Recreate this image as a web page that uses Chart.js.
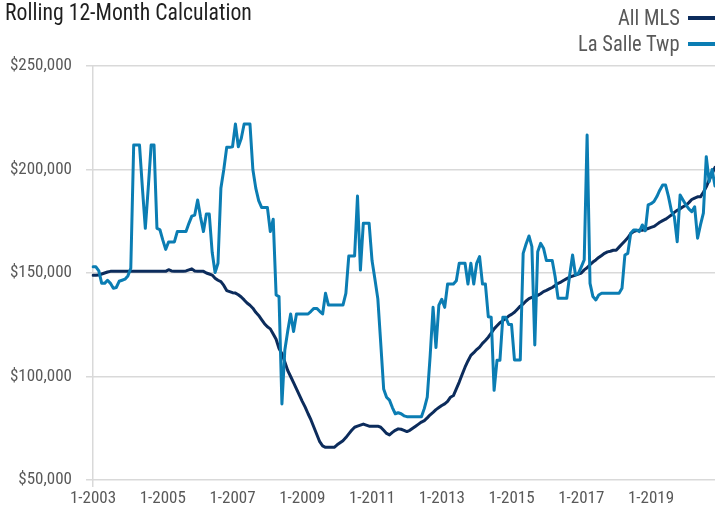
<!DOCTYPE html>
<html>
<head>
<meta charset="utf-8">
<title>Rolling 12-Month Calculation</title>
<script src="https://cdn.jsdelivr.net/npm/chart.js@4.4.1/dist/chart.umd.min.js"></script>
<style>
    body { margin: 0; background: #fff; }
    #wrap { position: relative; width: 715px; height: 515px; overflow: hidden; }
    #wrap canvas { position: absolute; left: 0; top: 0; }
    .title {
        position: absolute; left: 5px; top: 1px; line-height: 1;
        font-size: 23.5px; color: #1f1f1f; white-space: nowrap;
        transform-origin: left center;
    }
    .leg {
        position: absolute; right: 35px; line-height: 1;
        font-size: 21.5px; color: #595959; white-space: nowrap;
        transform-origin: right center;
    }
    .swatch { position: absolute; left: 688px; width: 27px; height: 4px; }
</style>
</head>
<body>
<div id="wrap">
    <canvas id="priceChart"></canvas>
    <div class="title" id="title" data-w="247">Rolling 12-Month Calculation</div>
    <div class="leg" id="legMls" data-w="62" style="top: 7px;">All MLS</div>
    <div class="swatch" style="top: 16px; background: #0c2c5c;"></div>
    <div class="leg" id="legTwp" data-w="102" style="top: 33px;">La Salle Twp</div>
    <div class="swatch" style="top: 42px; background: #0b7db3;"></div>
</div>
<script>
// Rolling 12-month median price, $ thousands, one value per month from 1-2003
const startYear = 2003;

const allMlsValues = [
    148.9, 148.9, 149, 149.5, 150, 150.5, 150.8, 150.8, 150.8, 150.8,
    150.8, 150.8, 150.8, 150.8, 150.8, 150.8, 150.8, 150.8, 150.8, 150.8,
    150.8, 150.8, 150.8, 150.8, 150.8, 150.8, 151.6, 151, 150.8, 150.8,
    150.8, 150.8, 151, 151.5, 152, 151, 150.8, 150.8, 150.8, 150,
    149.5, 149, 147.5, 146.5, 145.8, 144, 141.5, 141, 140.5, 140.3,
    139.5, 138.4, 137, 135.5, 134.4, 133, 131, 129.5, 127.5, 125.5,
    124, 123, 120.5, 118, 113.5, 111, 107, 102.9, 100, 97,
    94, 91, 88, 85.2, 82, 79, 75.5, 72, 68.5, 66.5,
    65.8, 65.8, 65.8, 65.8, 67, 68, 69, 70.5, 72.3, 74,
    75.5, 76, 76.5, 77, 76.5, 76, 76, 76, 76, 75.5,
    74, 72.5, 71.8, 73, 74, 74.7, 74.5, 74, 73.4, 74,
    75, 76, 77, 78, 78.7, 80, 81.5, 82.7, 84, 85,
    86, 86.8, 88, 90, 90.8, 94, 97.3, 101, 104.5, 107.5,
    110.2, 111.5, 113, 114.2, 116, 117.4, 119, 121, 123, 124.5,
    126, 127, 128, 129.2, 130, 131, 132.5, 134, 135, 136.5,
    137.6, 138.2, 138.8, 139.2, 140, 141, 141.6, 142.3, 143, 144,
    145, 145.6, 146.5, 147.3, 148, 148.5, 149, 149.5, 150, 151.5,
    152.5, 154, 155.3, 156.3, 157.5, 158.5, 159.5, 160.2, 160.5, 161,
    161, 162.5, 164, 165.5, 167, 169, 170, 170.5, 170.6, 170.6,
    171, 171.5, 172, 172.5, 173.5, 174.5, 175.3, 176, 177, 178,
    179.3, 180.3, 181, 182, 182.7, 184, 185.5, 186.2, 186.8, 186.8,
    189, 191.6, 195, 198, 201
];

const laSalleValues = [
    153, 153, 151, 145, 145, 146.5, 145, 142.6, 143, 146,
    146.5, 147, 148.6, 152.3, 211.8, 211.8, 211.8, 191, 171.6, 191,
    211.8, 211.8, 171.6, 171, 166, 161.4, 165, 165, 165, 170,
    170, 170, 170, 174, 177.5, 178, 185.3, 177, 170, 178.5,
    178.5, 160, 150.2, 154.7, 190.9, 200, 210.7, 210.7, 211, 222,
    211, 215, 222, 222, 222, 200, 191, 185, 181.7, 181.7,
    181.7, 170, 176, 139.4, 138.6, 86.7, 112.8, 122, 130.2, 121.7,
    130.2, 130.2, 130.2, 130.2, 130.2, 131.5, 132.9, 132.9, 131.5, 130.2,
    140.2, 134.5, 134.5, 134.5, 134.5, 134.5, 134.5, 140.2, 158.2, 158.2,
    158.2, 187.2, 151.4, 174, 174, 174, 156, 147, 137.5, 116,
    94, 90, 88.6, 85, 82, 82.5, 82, 81, 80.6, 80.6,
    80.6, 80.6, 80.6, 80.6, 84.6, 90, 110, 133.4, 114, 134.5,
    137.3, 133.4, 144.7, 144.7, 144.7, 146.3, 154.7, 154.7, 154.7, 144.7,
    154.7, 144.7, 154.7, 157.9, 144.7, 144.7, 128.9, 128.6, 93.3, 107.8,
    107.8, 128.6, 128.6, 125.1, 125.1, 108, 108, 108, 159.5, 164,
    167.9, 162.7, 115.2, 160.3, 164.3, 162, 156, 156, 156, 148.2,
    137.8, 137.8, 137.8, 137.8, 149, 158.7, 149, 149.8, 153, 156.3,
    216.7, 145, 138.6, 137, 139.4, 140.2, 140.2, 140.2, 140.2, 140.2,
    140.2, 140.2, 142.6, 158.7, 159.5, 169.2, 170.8, 170.8, 170, 173.2,
    170.4, 182.9, 183.5, 184.5, 186.9, 190, 192.5, 192.5, 186.9, 180,
    177.2, 165.1, 187.7, 185.3, 182.9, 181, 179.6, 182, 166.8, 173.2,
    178.9, 206.2, 194.1, 200, 192
];

// month labels like 1-2003, 2-2003 ...
const monthLabels = [];
for (let i = 0; i < allMlsValues.length; i++) {
    monthLabels.push((i % 12 + 1) + '-' + (startYear + Math.floor(i / 12)));
}

const yMin = 50, yMax = 250, yStep = 50;
const gridColor = '#d9d9d9';

// pick a narrow face if one is installed, otherwise Roboto
const measureCtx = document.createElement('canvas').getContext('2d');
function hasFont(name) {
    const txt = 'Rolling 12-Month $250,000 WwMm';
    for (const base of ['monospace', 'serif']) {
        measureCtx.font = '40px ' + base;
        const w1 = measureCtx.measureText(txt).width;
        measureCtx.font = '40px "' + name + '", ' + base;
        if (measureCtx.measureText(txt).width !== w1) return true;
    }
    return false;
}
const narrowCandidates = ['Roboto Condensed', 'Liberation Sans Narrow', 'Arial Narrow', 'DejaVu Sans Condensed', 'Open Sans Condensed'];
const fontName = narrowCandidates.find(hasFont) || 'Roboto';
const fontFamily = '"' + fontName + '", "Roboto", sans-serif';

// tick size so that "$250,000" is about 62px wide, as in the original
measureCtx.font = '18px ' + fontFamily;
const tickSize = Math.min(18, Math.round(18 * 62 / measureCtx.measureText('$250,000').width * 2) / 2);
const tickFont = { family: fontFamily, size: tickSize };

// squeeze heading texts to the original widths
document.querySelectorAll('.title, .leg').forEach(el => {
    el.style.fontFamily = fontFamily;
    const k = Number(el.dataset.w) / el.offsetWidth;
    if (k < 1) el.style.transform = 'scaleX(' + k.toFixed(3) + ')';
});

new Chart(document.getElementById('priceChart'), {
    type: 'line',
    data: {
        labels: monthLabels,
        datasets: [{
            label: 'All MLS',
            data: allMlsValues,
            borderColor: '#0c2c5c',
            backgroundColor: '#0c2c5c',
            order: 2
        }, {
            label: 'La Salle Twp',
            data: laSalleValues,
            borderColor: '#0b7db3',
            backgroundColor: '#0b7db3',
            order: 1
        }]
    },
    options: {
        responsive: true,
        maintainAspectRatio: false,
        animation: false,
        layout: { padding: { top: 66, left: 0, right: 0, bottom: 0 } },
        plugins: {
            legend: { display: false },
            tooltip: { enabled: false }
        },
        elements: {
            point: { radius: 0 },
            line: { borderWidth: 3, tension: 0, borderJoinStyle: 'round', borderCapStyle: 'round' }
        },
        scales: {
            x: {
                border: { display: false },
                grid: {
                    color: ctx => ctx.index % 12 === 0 ? gridColor : 'rgba(0,0,0,0)',
                    lineWidth: 1.5,
                    tickLength: 7
                },
                ticks: {
                    autoSkip: false,
                    maxRotation: 0,
                    padding: 2,
                    color: '#595959',
                    font: tickFont,
                    callback: function(value, index) {
                        return index % 24 === 0 ? this.getLabelForValue(value) : null;
                    }
                },
                afterFit: scale => { scale.height = 35; }
            },
            y: {
                min: yMin,
                max: yMax,
                border: { display: false },
                grid: { color: gridColor, lineWidth: 1.5, tickLength: 7 },
                ticks: {
                    stepSize: yStep,
                    padding: 14,
                    color: '#595959',
                    font: tickFont,
                    callback: v => '$' + (v * 1000).toLocaleString('en-US')
                },
                afterFit: scale => { scale.width = 93; }
            }
        }
    }
});
</script>
</body>
</html>
